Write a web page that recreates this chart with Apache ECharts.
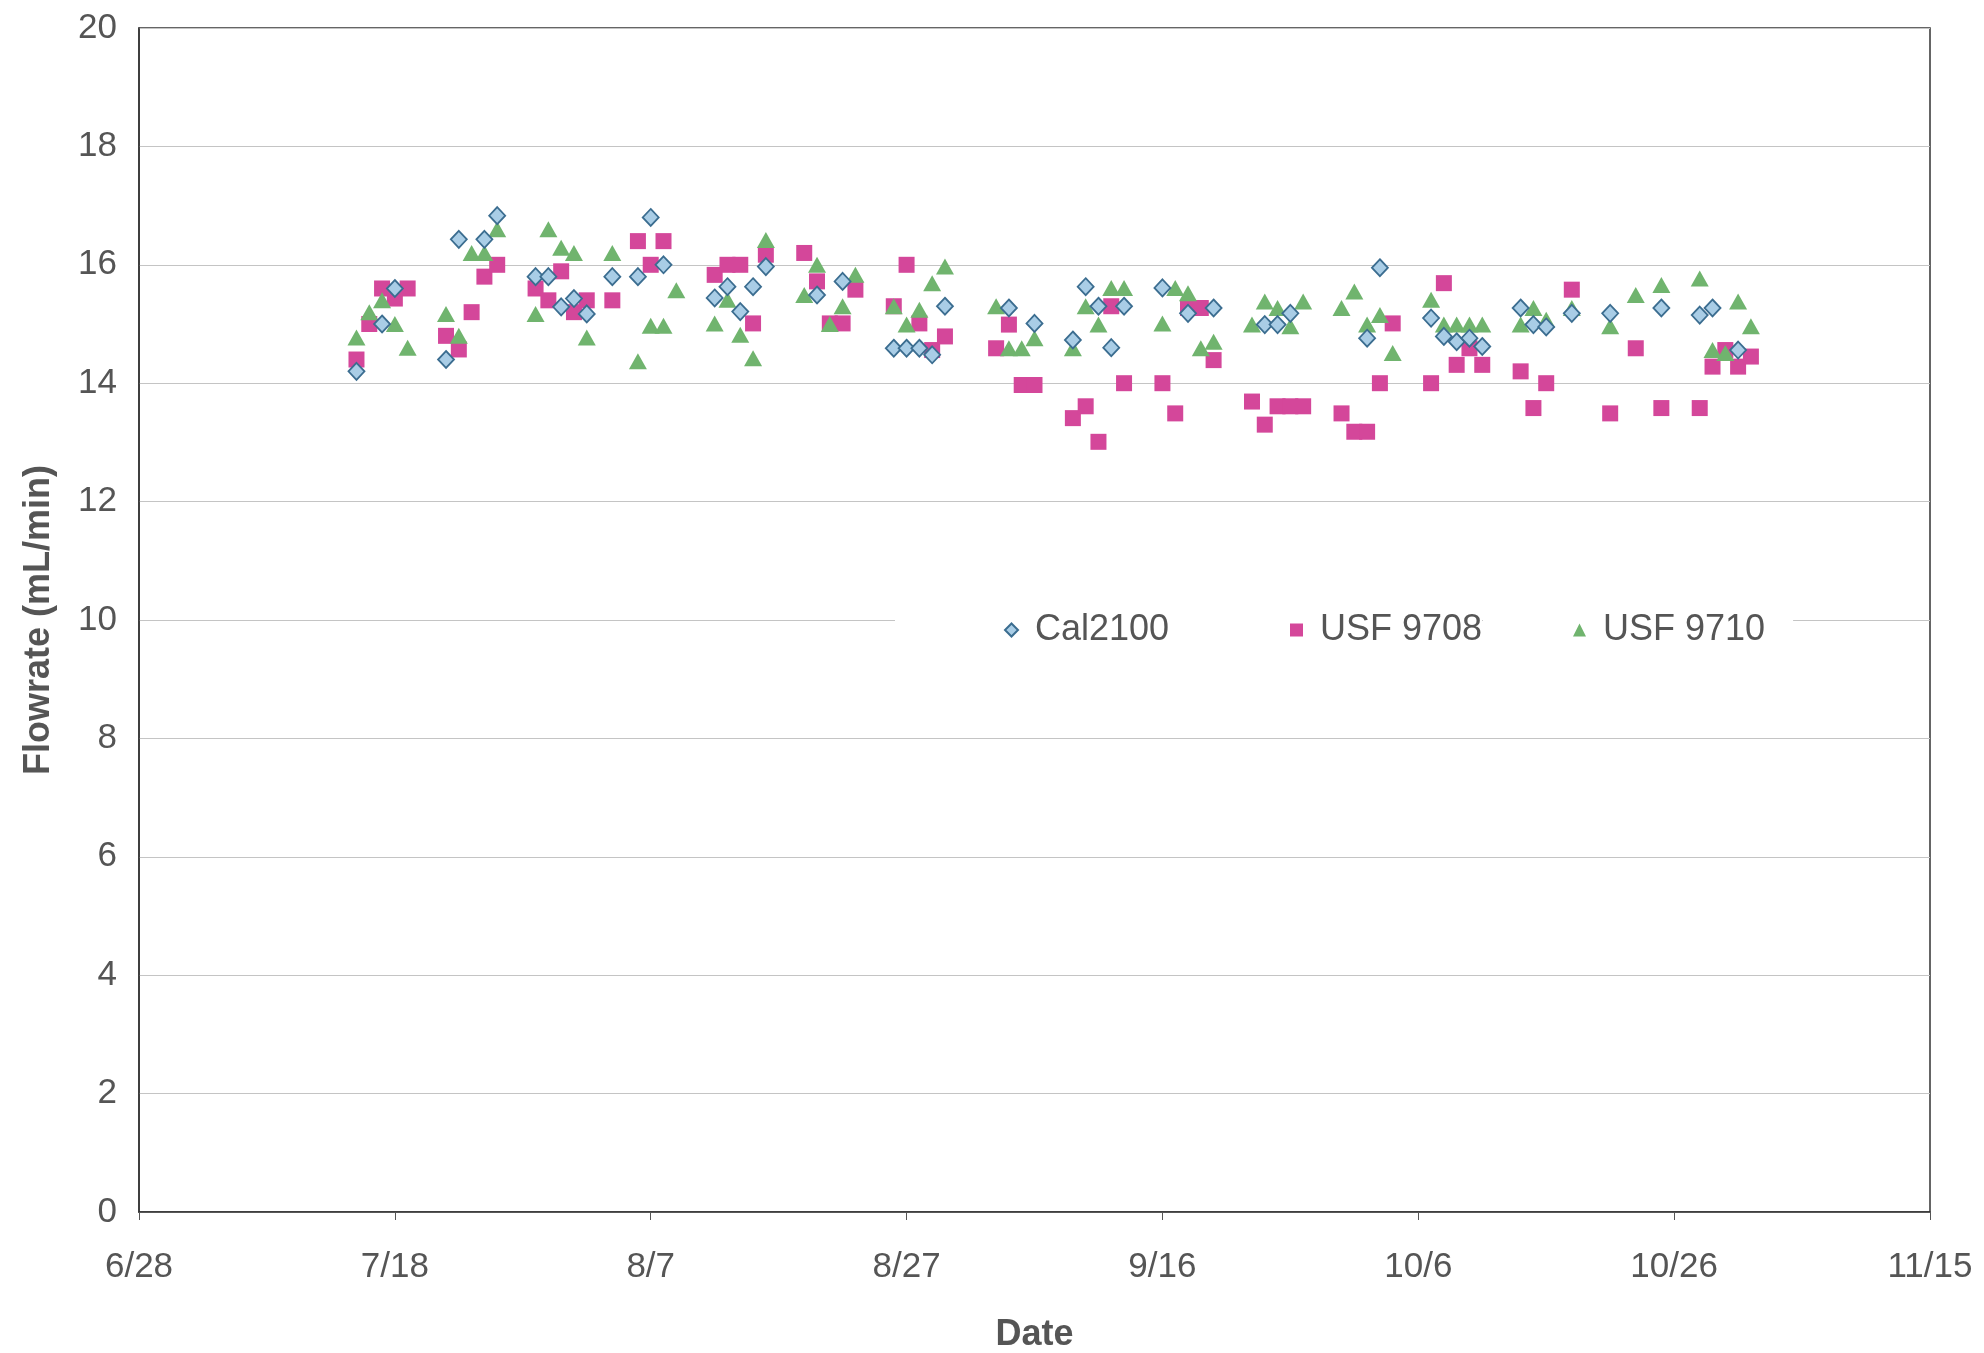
<!DOCTYPE html>
<html>
<head>
<meta charset="utf-8">
<script src="https://cdn.jsdelivr.net/npm/echarts@6/dist/echarts.min.js"></script>
<style>
html,body{margin:0;padding:0;background:#fff;}
#chart{width:1984px;height:1353px;}
</style>
</head>
<body>
<div id="chart"></div>
<script>
// x ticks: every 20 days from 6/28 to 11/15
const xTickLabels = ['6/28','7/18','8/7','8/27','9/16','10/6','10/26','11/15'];
const yTicks = [0,2,4,6,8,10,12,14,16,18,20];
const seriesNames = ['Cal2100','USF 9708','USF 9710'];

const cal2100Dates = ['7/15','7/17','7/18','7/22','7/23','7/25','7/26','7/29','7/30','7/31','8/1','8/2','8/4','8/6','8/7','8/8','8/12','8/13','8/14','8/15','8/16','8/20','8/22','8/26','8/27','8/28','8/29','8/30','9/4','9/6','9/9','9/10','9/11','9/12','9/13','9/16','9/18','9/20','9/24','9/25','9/26','10/2','10/3','10/7','10/8','10/9','10/10','10/11','10/14','10/15','10/16','10/18','10/21','10/25','10/28','10/29','10/31'];
const cal2100Values = [14.2,15.0,15.6,14.4,16.43,16.43,16.83,15.8,15.8,15.29,15.43,15.17,15.8,15.8,16.8,16.0,15.44,15.63,15.21,15.63,15.97,15.49,15.72,14.59,14.59,14.59,14.48,15.3,15.27,15.01,14.73,15.63,15.3,14.6,15.3,15.61,15.18,15.27,14.99,14.99,15.18,14.76,15.95,15.1,14.79,14.7,14.76,14.62,15.27,14.99,14.95,15.18,15.18,15.27,15.15,15.27,14.56];

const usf9708Dates = ['7/15','7/16','7/17','7/18','7/19','7/22','7/23','7/24','7/25','7/26','7/29','7/30','7/31','8/1','8/2','8/4','8/6','8/7','8/8','8/12','8/13','8/14','8/15','8/16','8/19','8/20','8/21','8/22','8/23','8/26','8/27','8/28','8/29','8/30','9/3','9/4','9/5','9/6','9/9','9/10','9/11','9/12','9/13','9/16','9/17','9/18','9/19','9/20','9/23','9/24','9/25','9/26','9/27','9/30','10/1','10/2','10/3','10/4','10/7','10/8','10/9','10/10','10/11','10/14','10/15','10/16','10/18','10/21','10/23','10/25','10/28','10/29','10/30','10/31','11/1'];
const usf9708Values = [14.4,15.0,15.6,15.43,15.6,14.8,14.57,15.2,15.8,16.0,15.6,15.4,15.89,15.2,15.4,15.4,16.4,16.0,16.4,15.83,16.0,16.0,15.01,16.17,16.2,15.72,15.01,15.01,15.58,15.3,16.0,15.01,14.56,14.79,14.59,14.99,13.97,13.97,13.41,13.61,13.01,15.3,14.0,14.0,13.49,15.27,15.27,14.39,13.69,13.3,13.61,13.61,13.61,13.49,13.18,13.18,14.0,15.01,14.0,15.69,14.31,14.59,14.31,14.2,13.58,14.0,15.58,13.49,14.59,13.58,13.58,14.28,14.56,14.28,14.45];

const usf9710Dates = ['7/15','7/16','7/17','7/18','7/19','7/22','7/23','7/24','7/25','7/26','7/29','7/30','7/31','8/1','8/2','8/4','8/6','8/7','8/8','8/9','8/12','8/13','8/14','8/15','8/16','8/19','8/20','8/21','8/22','8/23','8/26','8/27','8/28','8/29','8/30','9/3','9/4','9/5','9/6','9/9','9/10','9/11','9/12','9/13','9/16','9/17','9/18','9/19','9/20','9/23','9/24','9/25','9/26','9/27','9/30','10/1','10/2','10/3','10/4','10/7','10/8','10/9','10/10','10/11','10/14','10/15','10/16','10/18','10/21','10/23','10/25','10/28','10/29','10/30','10/31','11/1'];
const usf9710Values = [14.77,15.2,15.4,15.0,14.6,15.17,14.8,16.2,16.2,16.6,15.17,16.6,16.29,16.2,14.77,16.2,14.37,14.97,14.97,15.57,15.01,15.41,14.82,14.42,16.42,15.49,16.0,15.0,15.3,15.83,15.3,14.99,15.24,15.69,15.97,15.3,14.59,14.59,14.76,14.59,15.3,14.99,15.61,15.61,15.01,15.61,15.52,14.59,14.7,14.99,15.38,15.27,14.96,15.38,15.27,15.55,14.99,15.15,14.51,15.41,14.99,14.99,14.99,14.99,14.99,15.27,15.07,15.27,14.96,15.49,15.66,15.77,14.56,14.51,15.38,14.96];

const YEAR = 2003;
const ORIGIN = Date.UTC(YEAR, 5, 28);
function toDay(s){ const p = s.split('/').map(Number); return (Date.UTC(YEAR, p[0]-1, p[1]) - ORIGIN)/86400000; }
function dayLabel(v){ const d = new Date(ORIGIN + v*86400000); return (d.getUTCMonth()+1) + '/' + d.getUTCDate(); }
function pairs(ds, vs){ return ds.map((d,i)=>[toDay(d), vs[i]]); }

const FONT = 'Liberation Sans, Arial, sans-serif';
const legendText = {fontFamily:FONT, fontSize:36, color:'#555', padding:[0,0,0,12]};
const legendBase = {top:604, backgroundColor:'#ffffff', itemWidth:13, itemHeight:13, textStyle:legendText};

const chart = echarts.init(document.getElementById('chart'), null, {renderer:'canvas'});
chart.setOption({
  backgroundColor:'#ffffff',
  animation:false,
  grid:{left:139, right:54, top:28, bottom:141, containLabel:false, outerBoundsMode:'none',
        show:true, borderColor:'#333', borderWidth:1.5, backgroundColor:'transparent'},
  xAxis:{
    type:'value', min:0, max:toDay(xTickLabels[xTickLabels.length-1]), interval:20,
    name:'Date', nameLocation:'middle', nameGap:105,
    nameTextStyle:{fontFamily:FONT, fontSize:36, fontWeight:'bold', color:'#555'},
    axisLine:{show:true, lineStyle:{color:'#333', width:1.5}},
    axisTick:{show:true, length:8, lineStyle:{color:'#555'}},
    axisLabel:{fontFamily:FONT, fontSize:35, color:'#555', margin:38, formatter:v=>dayLabel(v)},
    splitLine:{show:false}
  },
  yAxis:{
    type:'value', min:yTicks[0], max:yTicks[yTicks.length-1], interval:2,
    name:'Flowrate (mL/min)', nameLocation:'middle', nameGap:82,
    nameTextStyle:{fontFamily:FONT, fontSize:36, fontWeight:'bold', color:'#555'},
    axisLine:{show:true, lineStyle:{color:'#333', width:1.5}},
    axisTick:{show:false},
    axisLabel:{fontFamily:FONT, fontSize:35, color:'#555', margin:22},
    splitLine:{show:true, lineStyle:{color:'#c4c4c4', width:1.2}}
  },
  legend:[
    Object.assign({}, legendBase, {left:895, padding:[8,0,8,109], data:[seriesNames[0]]}),
    Object.assign({}, legendBase, {left:1169, padding:[8,0,8,121], data:[seriesNames[1]]}),
    Object.assign({}, legendBase, {left:1483, padding:[8,28,8,90], data:[seriesNames[2]]})
  ],
  series:[
    {name:seriesNames[1], type:'scatter', symbol:'rect', symbolSize:16, z:2,
     itemStyle:{color:'#d4479a', opacity:1}, data:pairs(usf9708Dates, usf9708Values)},
    {name:seriesNames[2], type:'scatter', symbol:'triangle', symbolSize:[18,16], z:3,
     itemStyle:{color:'#70b46e', opacity:1}, data:pairs(usf9710Dates, usf9710Values)},
    {name:seriesNames[0], type:'scatter', symbol:'diamond', symbolSize:[16,17], z:4,
     itemStyle:{color:'#a9cde6', borderColor:'#3b6d90', borderWidth:1.8, opacity:1}, data:pairs(cal2100Dates, cal2100Values)}
  ]
});
</script>
</body>
</html>
